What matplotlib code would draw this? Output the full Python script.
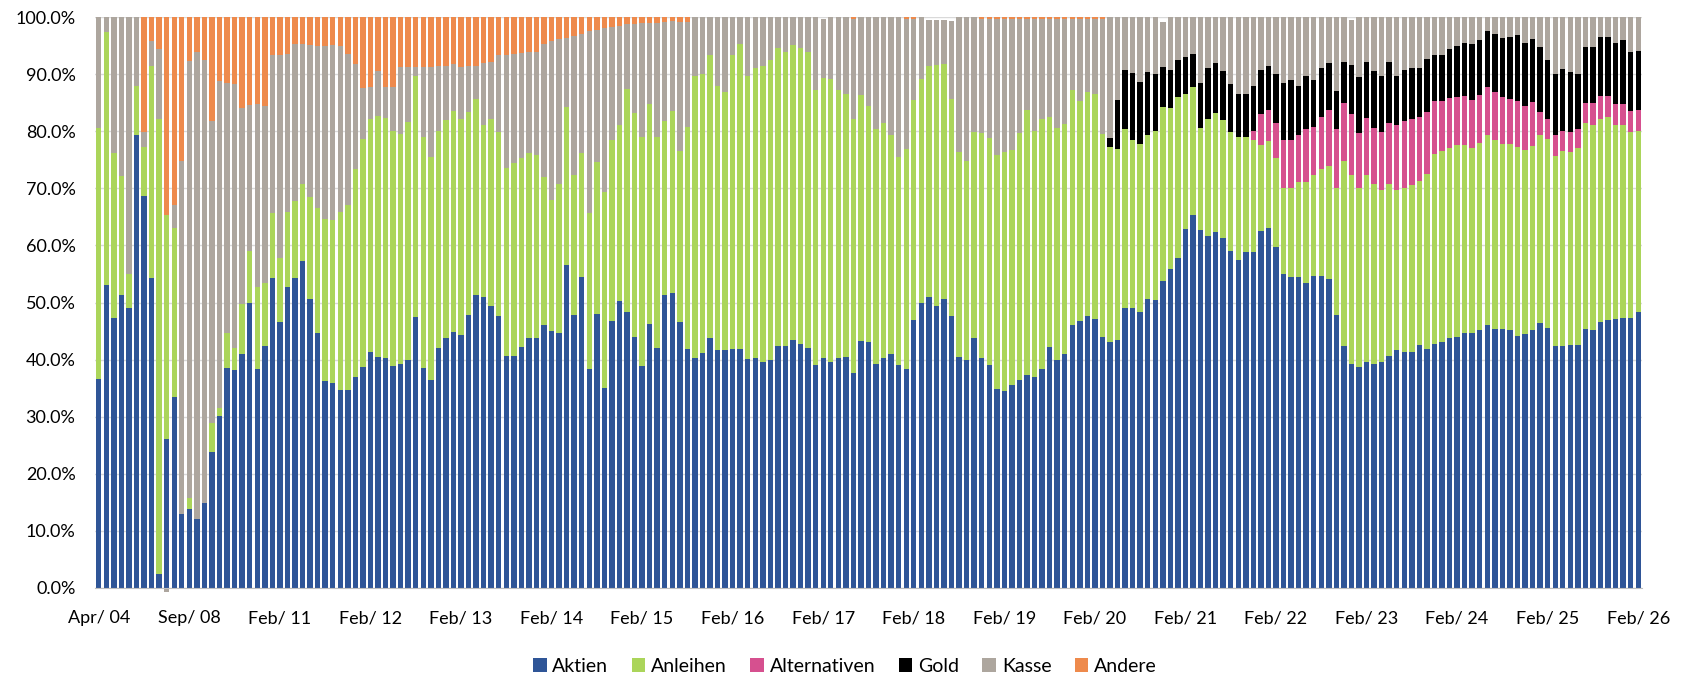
import matplotlib

matplotlib.use("Agg")
import matplotlib.pyplot as plt
import numpy as np
from matplotlib.patches import Patch
from matplotlib.ticker import FuncFormatter

plt.rcParams["font.family"] = ["Lato", "DejaVu Sans"]

# Anteile in Prozent, ein Wert pro Balken (205 Balken, ab Feb/11 monatlich)
aktien = [
    36.6, 53.1, 47.2, 51.4, 49.1, 79.4, 68.6, 54.3, 2.5, 26.1,
    33.4, 12.9, 13.8, 12.0, 14.9, 23.8, 30.1, 38.5, 38.1, 41.0,
    50.0, 38.4, 42.4, 54.3, 46.6, 52.7, 54.3, 57.2, 50.6, 44.7,
    36.3, 35.9, 34.7, 34.7, 36.9, 38.7, 41.3, 40.5, 40.3, 38.9,
    39.2, 39.9, 47.4, 38.6, 36.5, 42.1, 43.7, 44.9, 44.3, 47.8,
    51.4, 50.9, 49.4, 47.7, 40.7, 40.7, 42.2, 43.7, 43.8, 46.0,
    45.0, 44.6, 56.6, 47.8, 54.4, 38.4, 47.9, 35.1, 46.7, 50.3,
    48.3, 44.0, 38.9, 46.2, 42.1, 51.3, 51.7, 46.6, 41.9, 40.3,
    41.2, 43.8, 41.6, 41.6, 41.8, 41.8, 40.1, 40.3, 39.5, 40.0,
    42.4, 42.4, 43.4, 42.7, 42.0, 39.1, 40.3, 39.6, 40.3, 40.5,
    37.6, 43.2, 43.1, 39.2, 40.3, 40.9, 39.1, 38.3, 46.9, 50.0,
    50.9, 49.3, 50.6, 47.7, 40.4, 40.0, 43.8, 40.3, 39.1, 34.9,
    34.5, 35.6, 36.5, 37.3, 36.9, 38.3, 42.2, 40.0, 40.9, 46.0,
    46.8, 47.6, 47.1, 44.0, 43.0, 43.5, 49.0, 49.0, 48.3, 50.7,
    50.4, 53.8, 55.8, 57.8, 62.8, 65.3, 62.7, 61.6, 62.3, 61.3,
    59.1, 57.4, 58.9, 58.9, 62.5, 63.0, 59.7, 55.0, 54.4, 54.4,
    53.4, 54.6, 54.6, 54.1, 47.8, 42.3, 39.3, 38.7, 39.6, 39.3,
    39.6, 40.7, 41.6, 41.3, 41.3, 42.6, 41.9, 42.8, 43.0, 43.7,
    43.9, 44.6, 44.6, 45.1, 46.0, 45.4, 45.3, 45.2, 44.2, 44.4,
    45.1, 46.4, 45.6, 42.4, 42.4, 42.5, 42.6, 45.3, 45.1, 46.5,
    47.0, 47.1, 47.3, 47.3, 48.4,
]
anleihen = [
    43.9, 44.2, 29.0, 20.8, 5.9, 8.6, 8.7, 37.1, 79.6, 39.3,
    29.6, 0.0, 2.0, 0.0, 0.0, 5.1, 1.4, 6.1, 3.9, 8.8,
    9.1, 14.4, 11.0, 11.3, 11.2, 13.1, 13.4, 13.5, 17.9, 21.9,
    28.3, 28.5, 31.2, 32.3, 36.5, 40.0, 40.9, 42.1, 42.0, 41.1,
    40.3, 41.7, 42.3, 40.4, 39.0, 37.9, 38.2, 38.6, 37.9, 35.5,
    34.3, 30.1, 32.8, 32.1, 32.8, 33.8, 33.1, 32.5, 32.1, 26.0,
    23.0, 26.2, 27.6, 24.5, 21.7, 27.2, 26.7, 34.2, 31.8, 30.7,
    39.1, 39.2, 40.0, 38.6, 36.8, 30.5, 31.9, 30.0, 38.9, 49.3,
    48.9, 49.5, 46.3, 45.2, 51.5, 53.5, 49.5, 50.7, 52.0, 52.5,
    52.1, 51.5, 51.7, 51.8, 51.9, 48.2, 49.1, 49.6, 46.9, 46.1,
    44.5, 43.2, 41.4, 41.2, 41.1, 38.4, 36.3, 38.6, 38.5, 39.2,
    40.5, 42.3, 41.2, 37.9, 36.0, 34.7, 36.1, 39.3, 39.7, 41.0,
    41.9, 41.1, 43.1, 46.4, 43.1, 43.8, 40.2, 40.6, 40.4, 41.2,
    38.5, 39.2, 39.4, 35.5, 34.2, 33.3, 31.4, 29.4, 29.5, 28.7,
    29.7, 30.4, 28.3, 28.2, 23.8, 22.5, 17.9, 20.6, 20.9, 20.7,
    20.7, 21.6, 20.1, 19.5, 15.0, 15.3, 15.6, 15.1, 15.7, 16.7,
    17.7, 17.7, 18.7, 19.8, 22.3, 32.5, 33.0, 31.4, 32.7, 31.4,
    30.1, 30.1, 28.1, 28.8, 29.2, 28.6, 30.6, 33.2, 33.5, 33.3,
    33.7, 33.0, 32.4, 32.8, 33.3, 33.0, 32.5, 32.6, 33.0, 32.3,
    32.3, 32.9, 33.0, 33.3, 34.2, 33.8, 34.4, 36.1, 35.9, 35.7,
    35.5, 33.9, 33.7, 32.5, 31.7,
]
alternativen = [0.0] * 153 + [
    1.7, 5.5, 5.5, 6.2, 8.4, 8.4, 8.3,
    9.3, 8.5, 9.1, 9.9, 10.3, 10.2, 10.7, 9.5, 10.0, 9.8,
    10.1, 10.7, 11.4, 11.6, 11.7, 11.2, 10.9, 9.3, 8.8, 8.8,
    8.4, 8.5, 8.5, 8.4, 8.4, 8.4, 8.2, 7.9, 8.1, 7.7,
    7.7, 4.1, 3.5, 3.7, 3.5, 3.5, 3.4, 3.6, 3.9, 3.9,
    3.7, 3.7, 3.8, 3.7, 3.7,
]
gold = [0.0] * 134 + [
    1.6, 8.7, 10.3, 11.8, 10.8, 11.0,
    9.9, 7.0, 6.6, 6.4, 6.4, 5.7, 7.9, 8.8, 8.7, 8.6,
    8.4, 7.5, 7.5, 7.9, 7.8, 7.7, 8.6, 10.0, 10.5, 8.6,
    9.2, 8.2, 8.6, 8.2, 6.6, 7.2, 8.6, 9.9, 9.9, 10.1,
    9.9, 10.7, 8.6, 9.0, 8.8, 8.6, 9.3, 8.1, 8.1, 8.6,
    9.0, 9.4, 9.8, 9.6, 9.8, 10.3, 10.4, 10.8, 11.6, 11.1,
    11.0, 11.3, 10.4, 10.7, 10.8, 10.6, 9.6, 9.7, 9.8, 10.4,
    10.3, 10.7, 11.1, 10.4, 10.3,
]
kasse = [
    19.5, 2.7, 23.8, 27.8, 45.0, 12.0, 2.5, 4.4, 12.3, -0.7,
    4.1, 61.9, 76.5, 81.9, 77.6, 52.9, 57.3, 43.9, 46.3, 34.2,
    25.5, 32.0, 31.0, 27.7, 35.5, 27.7, 27.5, 24.5, 26.6, 28.4,
    30.3, 30.7, 29.1, 26.5, 18.3, 8.9, 5.5, 7.9, 5.4, 7.7,
    11.7, 9.7, 1.6, 12.2, 15.8, 11.5, 9.6, 8.2, 9.0, 8.1,
    5.7, 10.9, 9.9, 13.5, 19.8, 19.0, 18.4, 17.6, 17.9, 23.3,
    27.8, 25.3, 12.2, 24.3, 20.9, 31.9, 23.1, 28.7, 19.8, 17.5,
    11.3, 15.6, 20.1, 14.2, 20.1, 17.4, 15.7, 22.6, 18.4, 10.4,
    9.9, 6.7, 12.1, 13.2, 6.7, 4.7, 10.4, 9.0, 8.5, 7.5,
    5.5, 6.1, 4.9, 5.5, 6.1, 12.7, 10.3, 10.8, 12.8, 13.4,
    17.6, 13.6, 15.5, 19.6, 18.6, 20.7, 24.6, 22.8, 14.3, 10.8,
    8.1, 7.9, 7.7, 13.7, 23.6, 25.3, 20.1, 20.1, 20.9, 23.8,
    23.3, 23.0, 20.1, 16.0, 19.7, 17.6, 17.3, 19.1, 18.4, 12.5,
    14.4, 12.9, 13.2, 20.2, 21.2, 14.5, 9.3, 9.8, 11.4, 9.6,
    10.0, 8.0, 9.3, 7.6, 7.0, 6.5, 11.5, 9.0, 8.1, 9.4,
    11.8, 13.5, 13.5, 12.0, 9.2, 8.5, 9.9, 11.5, 11.0, 12.0,
    10.4, 11.0, 9.0, 8.0, 13.0, 7.8, 7.9, 10.5, 7.8, 9.4,
    10.3, 7.8, 10.3, 9.3, 9.0, 9.0, 7.3, 6.6, 6.6, 5.6,
    5.0, 4.5, 4.7, 4.1, 2.5, 2.9, 3.6, 3.5, 3.1, 4.5,
    3.9, 5.3, 7.5, 9.9, 9.1, 9.6, 10.0, 5.3, 5.3, 3.5,
    3.5, 4.6, 4.1, 6.1, 5.9,
]
andere = [
    0.0, 0.0, 0.0, 0.0, 0.0, 0.0, 20.2, 4.2, 5.6, 34.6,
    32.9, 25.2, 7.7, 6.1, 7.5, 18.2, 11.2, 11.5, 11.7, 16.0,
    15.4, 15.2, 15.6, 6.7, 6.7, 6.5, 4.8, 4.8, 4.9, 5.0,
    5.1, 4.9, 5.0, 6.5, 8.3, 12.4, 12.3, 9.5, 12.3, 12.3,
    8.8, 8.7, 8.7, 8.8, 8.7, 8.5, 8.5, 8.3, 8.8, 8.6,
    8.6, 8.1, 7.9, 6.7, 6.7, 6.5, 6.3, 6.2, 6.2, 4.7,
    4.2, 3.9, 3.6, 3.4, 3.0, 2.5, 2.3, 2.0, 1.7, 1.5,
    1.3, 1.2, 1.0, 1.0, 1.0, 0.8, 0.7, 0.8, 0.8,
] + [0.0] * 21 + [0.3] + [0.0] * 6 + [0.3, 0.3] + [0.0] * 8 + [0.3] * 17 + [0.0] * 71

tick_labels = ["Apr/ 04", "Sep/ 08"] + [f"Feb/ {y:02d}" for y in range(11, 27)]

series = [
    ("Aktien", aktien, "#2F5597"),
    ("Anleihen", anleihen, "#ABD55A"),
    ("Alternativen", alternativen, "#D6508F"),
    ("Gold", gold, "#000000"),
    ("Kasse", kasse, "#ADA69E"),
    ("Andere", andere, "#EE8A4C"),
]

n = len(aktien)
x = np.arange(n)

fig = plt.figure(figsize=(16.9, 6.77), dpi=100)
ax = fig.add_axes([95 / 1690, 1 - 588 / 677, 1547 / 1690, 571 / 677])

pos = np.zeros(n)
neg = np.zeros(n)
for name, values, color in series:
    v = np.asarray(values, dtype=float)
    bottom = np.where(v >= 0, pos, neg)
    ax.bar(x, v, bottom=bottom, width=0.72, color=color, linewidth=0,
           zorder=3, clip_on=False)
    pos += np.where(v >= 0, v, 0)
    neg += np.where(v < 0, v, 0)

ax.set_xlim(-0.5, n - 0.5)
ax.set_ylim(0, 100)
ax.set_yticks(np.arange(0, 101, 10))
ax.yaxis.set_major_formatter(FuncFormatter(lambda v, _: f"{v:.1f}%"))
ax.set_xticks(np.arange(0, n, 12))
ax.set_xticklabels(tick_labels)
ax.tick_params(axis="both", length=0, labelsize=13, colors="#000000")
ax.tick_params(axis="x", pad=16)
ax.tick_params(axis="y", pad=14)

ax.grid(axis="y", color="#D9D9D9", linewidth=1.0, zorder=0)
ax.set_axisbelow(True)
for side in ("left", "right", "top"):
    ax.spines[side].set_visible(False)
ax.spines["bottom"].set_color("#BFBFBF")
ax.spines["bottom"].set_zorder(4)

handles = [Patch(facecolor=c, edgecolor="none", label=name) for name, _, c in series]
fig.legend(handles=handles, loc="center", bbox_to_anchor=(0.5, 1 - 666 / 677),
           ncol=6, frameon=False, fontsize=14, handlelength=0.7,
           handleheight=0.7, handletextpad=0.3, columnspacing=1.2)

fig.savefig("out.png", dpi=100)
